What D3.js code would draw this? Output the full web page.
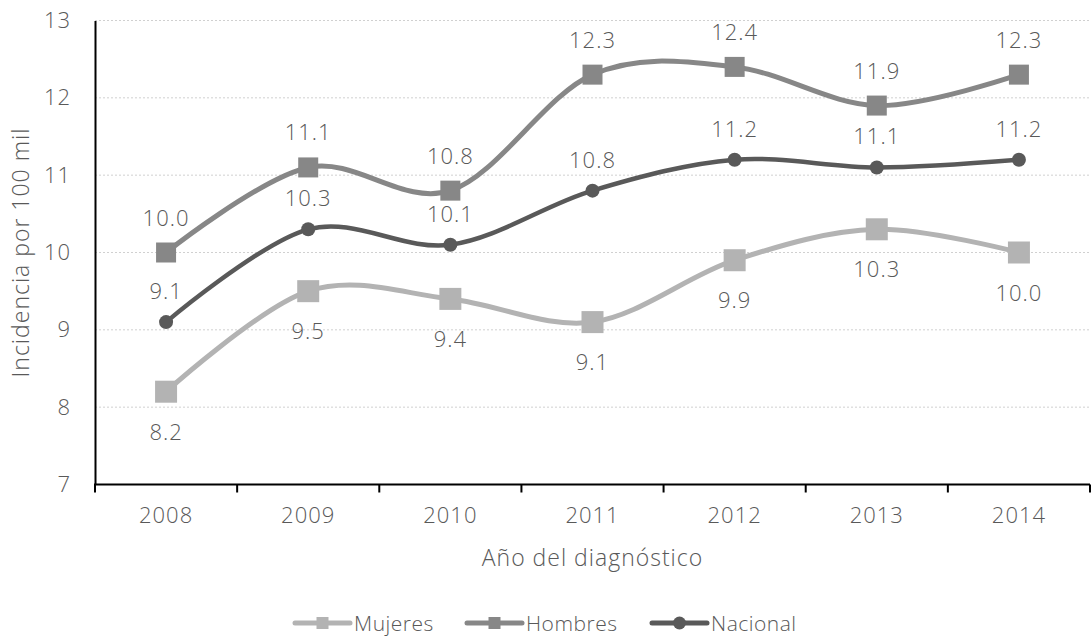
<!DOCTYPE html>
<html>
<head>
<meta charset="utf-8">
<script src="https://cdn.jsdelivr.net/npm/d3@7"></script>
<style>
  html, body { margin: 0; padding: 0; background: #ffffff; }
  svg text { font-family: "Open Sans", "Noto Sans", sans-serif; font-weight: 300; fill: #595959; letter-spacing: 1px; }
</style>
</head>
<body>
<svg id="chart" width="1091" height="637"></svg>
<script>
// Incidencia por 100 mil habitantes, según año del diagnóstico
const years = ["2008", "2009", "2010", "2011", "2012", "2013", "2014"];
const mujeres  = [8.2, 9.5, 9.4, 9.1, 9.9, 10.3, 10.0];
const hombres  = [10.0, 11.1, 10.8, 12.3, 12.4, 11.9, 12.3];
const nacional = [9.1, 10.3, 10.1, 10.8, 11.2, 11.1, 11.2];
const yTicks = [7, 8, 9, 10, 11, 12, 13];

const series = [
  { name: "Mujeres",  values: mujeres,  color: "#b3b3b3", marker: "square", size: 22, width: 5, labelPos: "below" },
  { name: "Hombres",  values: hombres,  color: "#878787", marker: "square", size: 20, width: 5, labelPos: "above" },
  { name: "Nacional", values: nacional, color: "#595959", marker: "circle", size: 14, width: 4.5, labelPos: "above" }
];

const svg = d3.select("#chart");
const plotLeft = 95, plotRight = 1090, plotTop = 20.5, plotBottom = 484.5;
const fontSize = "22px";

const x = d3.scaleBand().domain(years).range([plotLeft, plotRight]).paddingInner(0).paddingOuter(0);
const xc = d => x(d) + x.bandwidth() / 2;
const y = d3.scaleLinear().domain([7, 13]).range([plotBottom, plotTop]);

// gridlines
svg.append("g")
  .selectAll("line")
  .data(yTicks.filter(t => t > 7))
  .join("line")
  .attr("x1", plotLeft).attr("x2", plotRight)
  .attr("y1", d => y(d)).attr("y2", d => y(d))
  .attr("stroke", "#d0d0d0")
  .attr("stroke-width", 1)
  .attr("stroke-dasharray", "2,2");

// y axis
const yAxis = svg.append("g")
  .attr("transform", `translate(${plotLeft},0)`)
  .call(d3.axisLeft(y).tickValues(yTicks).tickFormat(d3.format("d")).tickSize(0).tickPadding(24));
yAxis.select(".domain").attr("stroke", "#000").attr("stroke-width", 2);
yAxis.selectAll("text").style("font-size", fontSize).attr("fill", "#595959");

// x axis: labels centred in each category, tick marks on category boundaries
const xAxis = svg.append("g")
  .attr("transform", `translate(0,${plotBottom})`)
  .call(d3.axisBottom(x).tickSize(0).tickPadding(23));
xAxis.select(".domain").remove();
xAxis.selectAll("text").style("font-size", fontSize).attr("fill", "#595959");

const boundaries = years.map(d => x(d)).concat([x.range()[1]]);
svg.append("g")
  .selectAll("line")
  .data(boundaries)
  .join("line")
  .attr("x1", d => d).attr("x2", d => d)
  .attr("y1", plotBottom).attr("y2", plotBottom + 8)
  .attr("stroke", "#000").attr("stroke-width", 2);
svg.append("line")
  .attr("x1", plotLeft - 1).attr("x2", plotRight)
  .attr("y1", plotBottom).attr("y2", plotBottom)
  .attr("stroke", "#000").attr("stroke-width", 2);

// axis titles
svg.append("text")
  .attr("x", (plotLeft + plotRight) / 2).attr("y", 557)
  .attr("text-anchor", "middle").attr("dominant-baseline", "central")
  .style("font-size", "23px")
  .text("Año del diagnóstico");

svg.append("text")
  .attr("transform", `translate(20,${(plotTop + plotBottom) / 2}) rotate(-90)`)
  .attr("text-anchor", "middle").attr("dominant-baseline", "central")
  .style("font-size", "23px")
  .text("Incidencia por 100 mil");

// lines, markers
const line = d3.line()
  .x((d, i) => xc(years[i]))
  .y(d => y(d))
  .curve(d3.curveCardinal.tension(0));

const drawMarker = (g, s, cx, cy, size) => {
  if (s.marker === "square") {
    g.append("rect")
      .attr("x", cx - size / 2).attr("y", cy - size / 2)
      .attr("width", size).attr("height", size)
      .attr("fill", s.color);
  } else {
    g.append("circle")
      .attr("cx", cx).attr("cy", cy).attr("r", size / 2)
      .attr("fill", s.color);
  }
};

series.forEach(s => {
  const g = svg.append("g");
  g.append("path")
    .datum(s.values)
    .attr("d", line)
    .attr("fill", "none")
    .attr("stroke", s.color)
    .attr("stroke-width", s.width)
    .attr("stroke-linecap", "round");
  s.values.forEach((v, i) => drawMarker(g, s, xc(years[i]), y(v), s.size));
});

// data labels
series.forEach(s => {
  svg.append("g")
    .selectAll("text")
    .data(s.values)
    .join("text")
    .attr("x", (d, i) => xc(years[i]))
    .attr("y", d => y(d) + (s.labelPos === "below" ? 39 : (s.name === "Hombres" ? -36 : -32)))
    .attr("text-anchor", "middle")
    .attr("dominant-baseline", "central")
    .style("font-size", fontSize)
    .text(d => d3.format(".1f")(d));
});

// legend
const legendY = 623;
const legendItems = [
  { s: series[0], x0: 295, x1: 350, msize: 12 },
  { s: series[1], x0: 467, x1: 522, msize: 12 },
  { s: series[2], x0: 652, x1: 707, msize: 13 }
];
legendItems.forEach(it => {
  const g = svg.append("g");
  g.append("line")
    .attr("x1", it.x0).attr("x2", it.x1)
    .attr("y1", legendY).attr("y2", legendY)
    .attr("stroke", it.s.color).attr("stroke-width", 5)
    .attr("stroke-linecap", "round");
  drawMarker(g, it.s, (it.x0 + it.x1) / 2, legendY, it.msize);
  g.append("text")
    .attr("x", it.x1 + 4).attr("y", legendY)
    .attr("dominant-baseline", "central")
    .style("font-size", "21px")
    .style("letter-spacing", "0.5px")
    .text(it.s.name);
});
</script>
</body>
</html>
